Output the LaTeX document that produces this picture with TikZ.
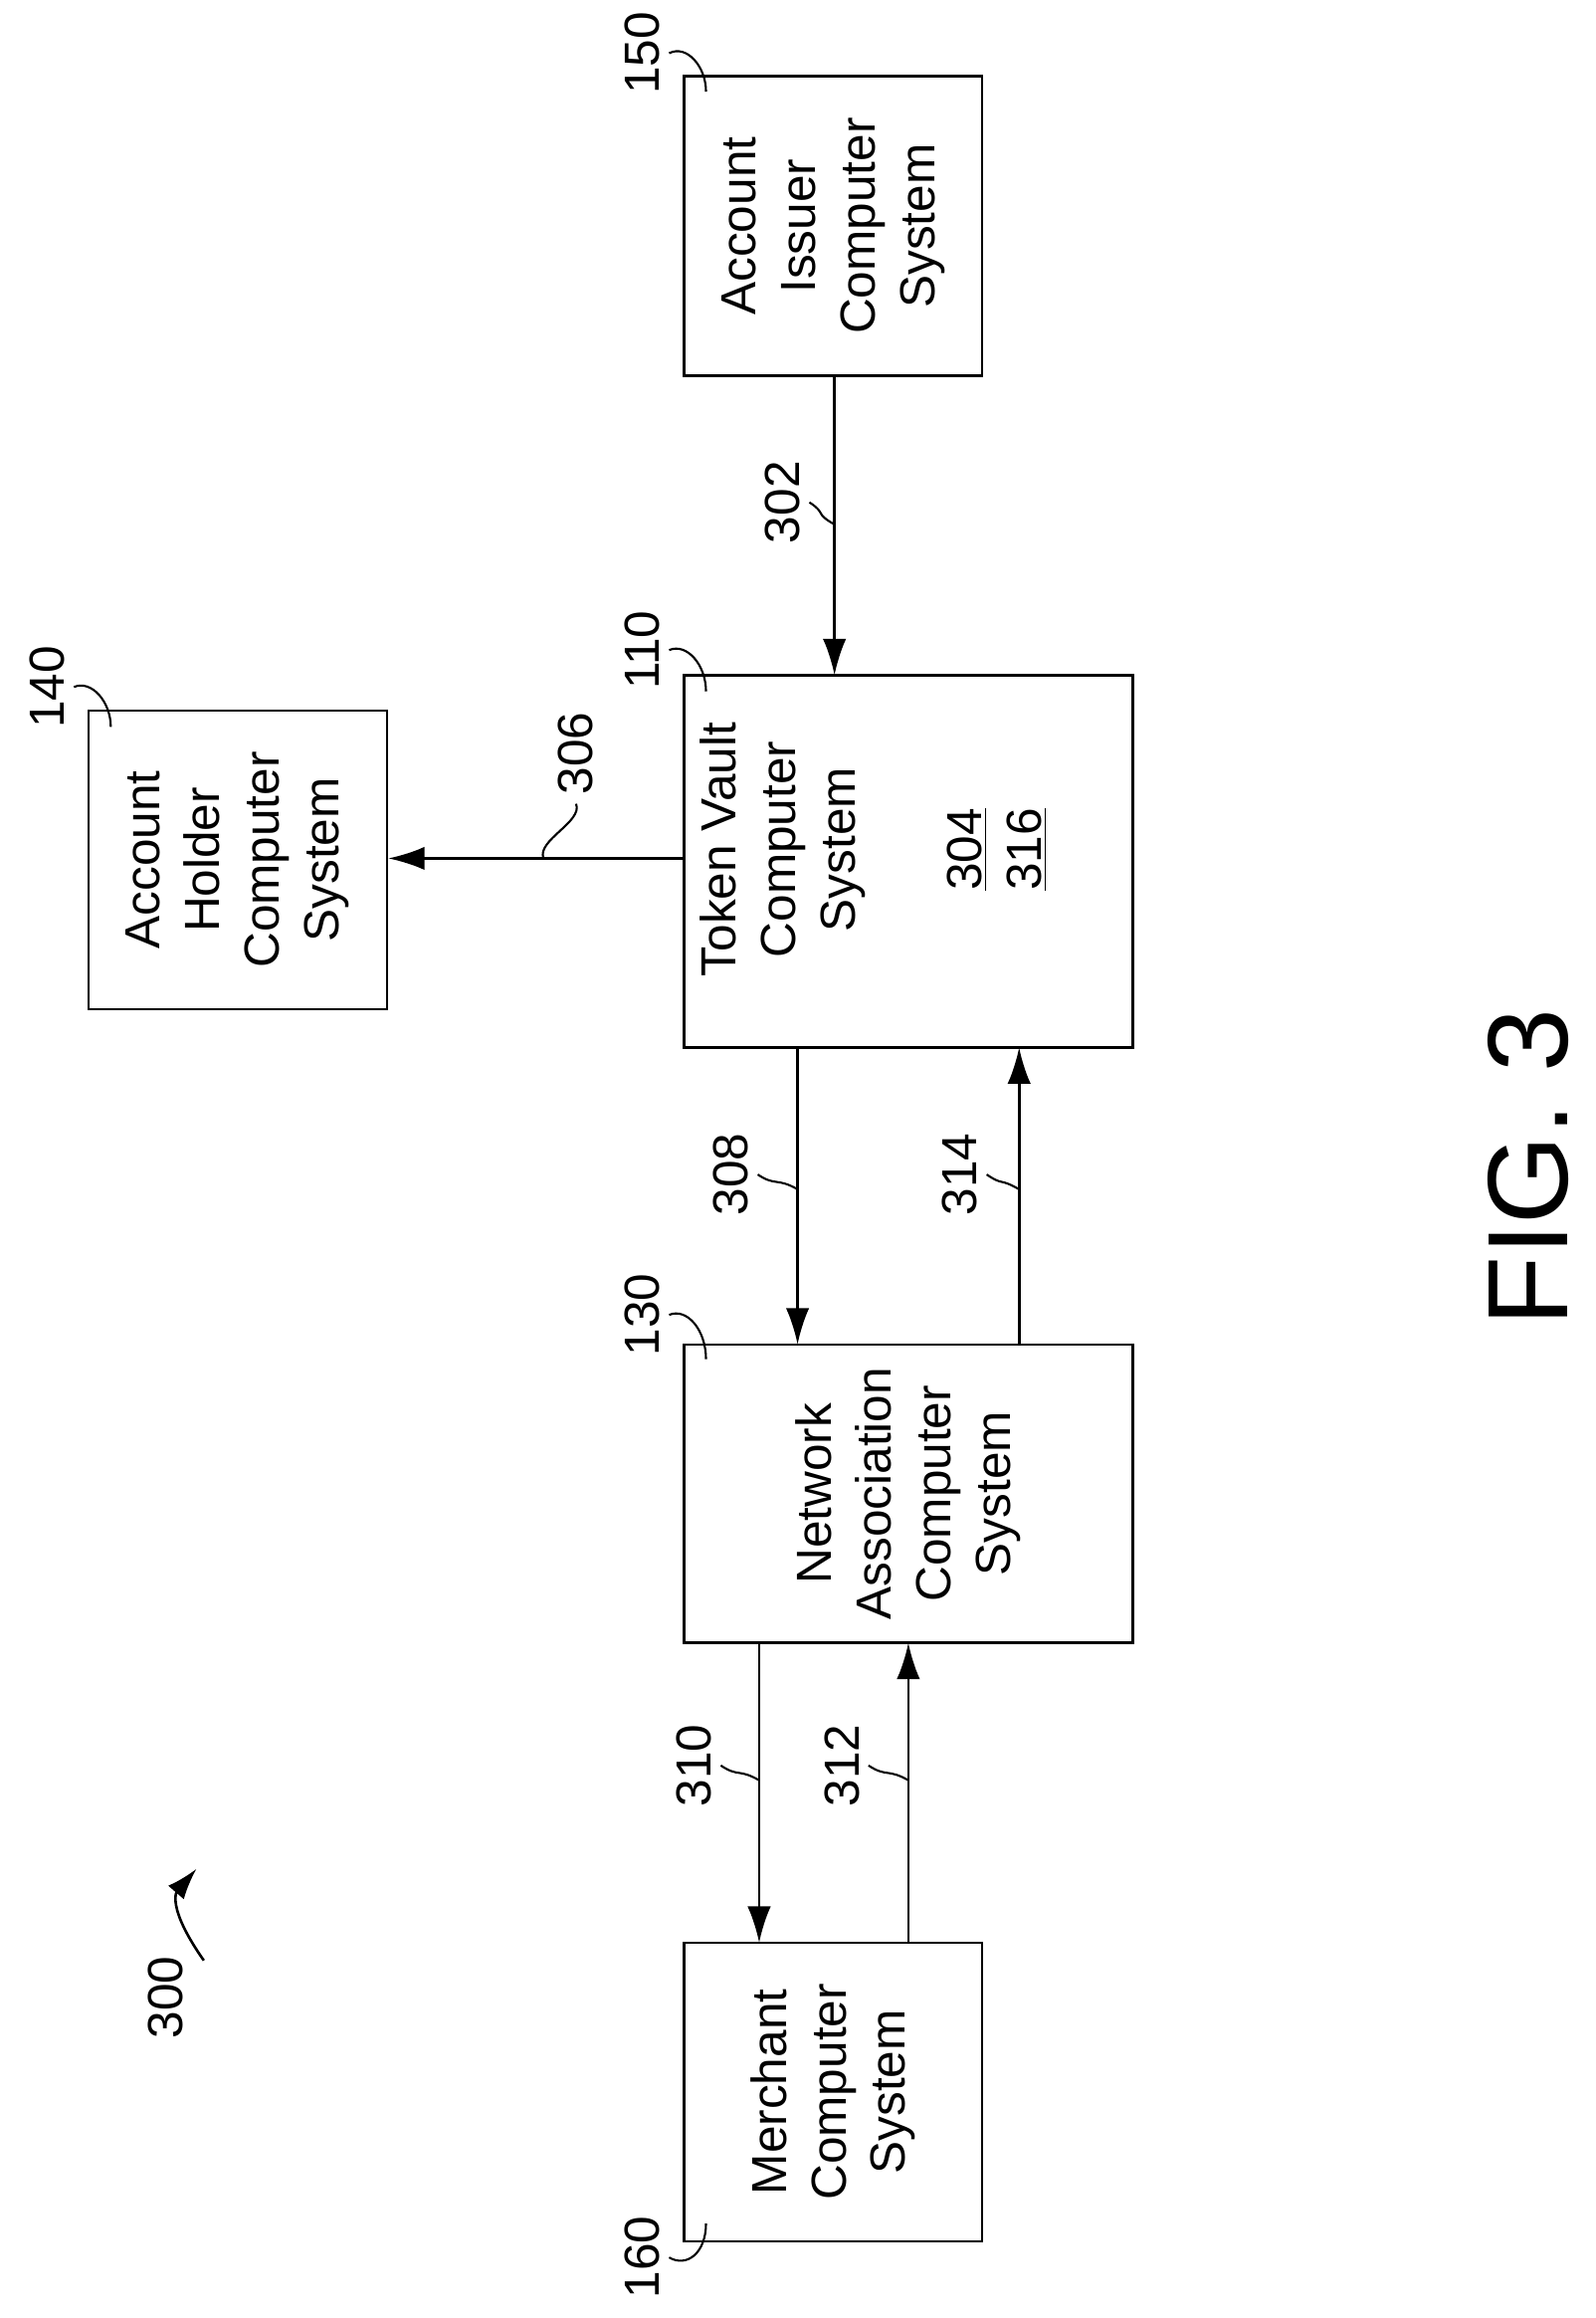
\documentclass[tikz,border=0pt]{standalone}
\usepackage{fontspec}
\setmainfont{Liberation Sans}
\usetikzlibrary{arrows.meta}
\begin{document}
\begin{tikzpicture}[x=0.02cm, y=-0.02cm,
    box/.style={draw, line width=1pt, rotate=90, align=center, font=\fontsize{19}{23}\selectfont},
    lbl/.style={rotate=90, font=\fontsize{19}{23}\selectfont},
    flow/.style={line width=1pt, -{Latex[length=14pt, width=9pt]}},
    lead/.style={line width=0.8pt},
  ]
  \useasboundingbox (0,0) rectangle (1080,1569);
  % boxes (width/height swapped because of rotation)
  \node[box, minimum width=203*0.02cm, minimum height=202*0.02cm] (150) at (564,153) {Account\\Issuer\\Computer\\System};
  \node[box, minimum width=202*0.02cm, minimum height=202*0.02cm] (140) at (161,582) {Account\\Holder\\Computer\\System};
  \node[box, minimum width=252*0.02cm, minimum height=304*0.02cm] (110) at (615,583) {};
  \node[lbl, align=center] at (530,575) {Token Vault\\Computer\\System};
  \node[lbl, align=center] at (675,575) {\underline{304}\\\underline{316}};
  \node[box, minimum width=202*0.02cm, minimum height=304*0.02cm] (130) at (615,1011) {Network\\Association\\Computer\\System};
  \node[box, minimum width=202*0.02cm, minimum height=202*0.02cm] (160) at (564,1416) {Merchant\\Computer\\System};
  % reference numbers
  \node[lbl] (n150) at (435,36) {150};
  \node[lbl] (n140) at (32,465) {140};
  \node[lbl] (n110) at (435,440) {110};
  \node[lbl] (n130) at (435,890) {130};
  \node[lbl] (n160) at (435,1528) {160};
  \node[lbl] (n300) at (112,1352) {300};
  \node[rotate=90, font=\fontsize{44}{46}\selectfont] (fig) at (1035,790) {FIG. 3};
  \draw[lead] (n150.south) .. controls (465,30) and (478,45) .. (478,62);
  \draw[lead] (n140.south) .. controls (62,460) and (75,475) .. (75,492);
  \draw[lead] (n110.south) .. controls (465,435) and (478,450) .. (478,468);
  \draw[lead] (n130.south) .. controls (465,885) and (478,900) .. (478,920);
  \draw[lead] (n160.south) .. controls (465,1535) and (478,1525) .. (478,1505);
  \draw[line width=1pt, -{Latex[length=12pt, width=8pt]}] (n300.south) ++(8,-25) .. controls (112,1290) and (120,1280) .. (133,1265);
  % flows
  \draw[flow] (565,255) -- (565,457);
  \draw[flow] (110.north |- 0,581) -- (140.south |- 0,581);
  \draw[flow] (540,709) -- (540,910);
  \draw[flow] (690,910) -- (690,709);
  \draw[flow] (514,1112) -- (514,1315);
  \draw[flow] (615,1315) -- (615,1112);
  % flow labels
  \node[lbl] (l302) at (530,340) {302};
  \node[lbl] (l306) at (390,510) {306};
  \node[lbl] (l308) at (495,795) {308};
  \node[lbl] (l314) at (650,795) {314};
  \node[lbl] (l310) at (470,1195) {310};
  \node[lbl] (l312) at (570,1195) {312};
  \foreach \l/\x/\y in {l302/565/355, l308/540/805, l314/690/805, l310/514/1205, l312/615/1205}
    \draw[lead] (\l.south) .. controls +(12,8) and +(-14,-8) .. (\x,\y);
  \draw[lead] (l306.west) .. controls +(5,12) and +(-5,-12) .. (368,581);
\end{tikzpicture}
\end{document}
